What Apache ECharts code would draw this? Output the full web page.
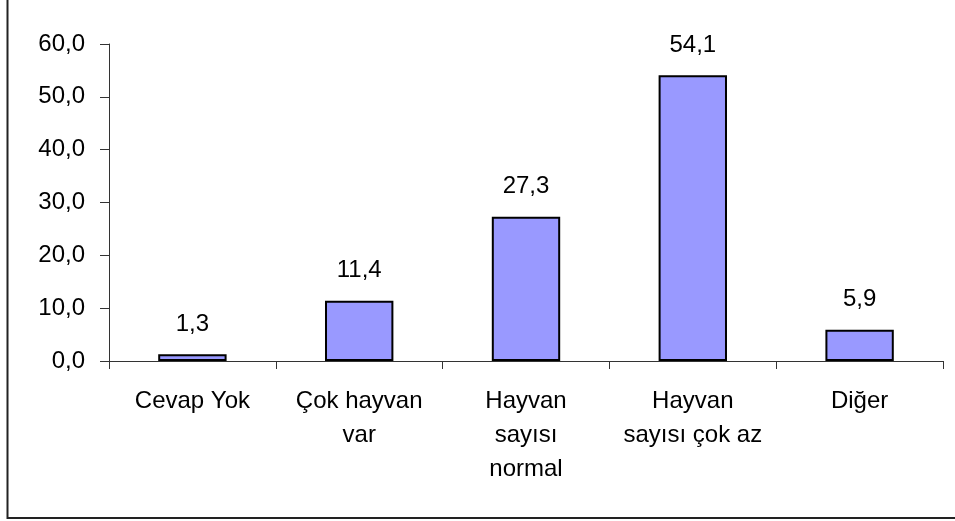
<!DOCTYPE html>
<html>
<head>
<meta charset="utf-8">
<script src="https://cdn.jsdelivr.net/npm/echarts@6/dist/echarts.min.js"></script>
<style>
html,body{margin:0;padding:0;background:#fff;}
#chart{width:955px;height:521px;}
</style>
</head>
<body>
<div id="chart"></div>
<script>
var categories = ["Cevap Yok", "Çok hayvan\nvar", "Hayvan\nsayısı\nnormal", "Hayvan\nsayısı çok az", "Diğer"];
var values = [1.3, 11.4, 27.3, 54.1, 5.9];
var yMin = 0, yMax = 60, yStep = 10;

function fmt(v) { return Number(v).toFixed(1).replace('.', ','); }

var chart = echarts.init(document.getElementById('chart'), null, {renderer: 'canvas'});
var FONT = '"Liberation Sans", Arial, sans-serif';
chart.setOption({
  animation: false,
  backgroundColor: '#ffffff',
  textStyle: {fontFamily: FONT},
  grid: {left: 109, right: 12, top: 44, bottom: 160, containLabel: false},
  graphic: [{
    type: 'rect',
    shape: {x: 7.5, y: -10, width: 970, height: 528},
    style: {fill: 'none', stroke: '#222', lineWidth: 2},
    silent: true
  }],
  xAxis: {
    type: 'category',
    data: categories,
    boundaryGap: true,
    axisLine: {lineStyle: {color: '#333', width: 1}},
    axisTick: {show: true, length: 8, inside: false, alignWithLabel: false, lineStyle: {color: '#333'}},
    axisLabel: {color: '#000', fontSize: 24, fontFamily: FONT, lineHeight: 34, margin: 23, interval: 0}
  },
  yAxis: {
    type: 'value',
    min: yMin, max: yMax, interval: yStep,
    splitLine: {show: false},
    axisLine: {show: true, lineStyle: {color: '#333', width: 1}},
    axisTick: {show: true, length: 9, lineStyle: {color: '#333'}},
    axisLabel: {color: '#000', fontSize: 24, fontFamily: FONT, margin: 24, formatter: fmt}
  },
  series: [{
    type: 'bar',
    data: values,
    barWidth: '41%',
    itemStyle: {color: '#9999FF', borderColor: '#000', borderWidth: 2},
    label: {show: true, position: 'top', distance: 18, color: '#000', fontSize: 24, fontFamily: FONT, formatter: function (p) { return fmt(p.value); }}
  }]
});
</script>
</body>
</html>
